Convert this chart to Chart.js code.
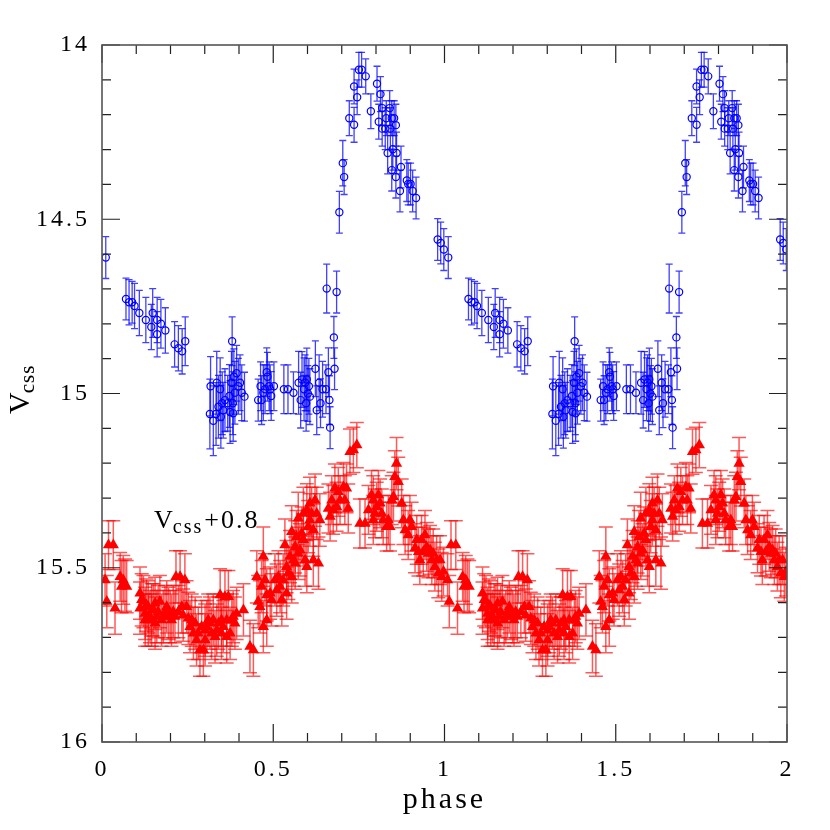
<!DOCTYPE html>
<html>
<head>
<meta charset="utf-8">
<script src="https://cdn.jsdelivr.net/npm/chart.js@4.4.1/dist/chart.umd.min.js"></script>
<style>
  html, body { margin: 0; padding: 0; background: #fff; }
  #wrap { width: 830px; height: 830px; }
</style>
</head>
<body>
<div id="wrap"><canvas id="lc" width="830" height="830"></canvas></div>
<script>
// phase-folded light curve, one cycle; plotted at phase and phase+1
// [phase, mag, err]
var vcss = [
  [0.011,14.610,0.06],
  [0.070,14.729,0.06],[0.079,14.738,0.065],[0.088,14.738,0.06],[0.095,14.749,0.065],[0.109,14.769,0.065],
  [0.128,14.789,0.065],[0.144,14.809,0.065],[0.148,14.769,0.07],[0.161,14.789,0.065],[0.161,14.830,0.065],
  [0.172,14.800,0.07],[0.185,14.819,0.065],[0.212,14.859,0.065],[0.223,14.870,0.065],[0.234,14.879,0.065],
  [0.243,14.850,0.07],
  [0.315,15.059,0.1],[0.317,14.979,0.085],[0.325,15.078,0.1],[0.333,15.059,0.09],[0.335,14.969,0.09],
  [0.340,15.038,0.09],[0.345,14.988,0.09],[0.347,15.067,0.09],[0.351,15.028,0.09],[0.354,15.048,0.08],
  [0.359,15.019,0.09],[0.367,15.028,0.08],[0.372,15.007,0.09],[0.374,15.053,0.09],[0.378,14.969,0.09],
  [0.380,14.850,0.07],[0.382,15.028,0.09],[0.383,15.057,0.08],[0.385,14.952,0.08],[0.388,14.998,0.09],
  [0.393,14.942,0.08],[0.398,14.979,0.08],[0.403,14.969,0.08],[0.408,14.998,0.08],[0.416,15.009,0.07],
  [0.456,15.019,0.06],[0.463,14.979,0.07],[0.466,15.019,0.07],[0.471,14.998,0.08],[0.476,14.988,0.07],
  [0.481,14.939,0.07],[0.483,14.952,0.07],[0.488,14.979,0.07],[0.491,14.988,0.07],[0.494,15.007,0.07],
  [0.502,14.979,0.07],
  [0.531,14.988,0.07],[0.543,14.988,0.07],[0.559,14.998,0.06],[0.574,14.969,0.09],[0.580,15.019,0.08],
  [0.584,14.960,0.08],[0.590,14.988,0.09],[0.593,14.969,0.08],[0.596,15.028,0.08],[0.598,14.960,0.09],
  [0.601,15.000,0.08],[0.604,14.979,0.08],[0.607,15.009,0.08],[0.623,14.929,0.08],[0.627,15.048,0.07],
  [0.634,14.969,0.08],[0.638,15.028,0.07],[0.644,14.988,0.08],[0.654,14.988,0.07],[0.656,14.699,0.07],
  [0.661,14.939,0.07],[0.664,15.019,0.07],[0.666,15.098,0.06],[0.677,14.839,0.06],[0.679,14.929,0.06],
  [0.685,14.709,0.06],
  [0.693,14.480,0.06],[0.703,14.339,0.065],[0.707,14.379,0.05],[0.722,14.210,0.05],[0.736,14.229,0.05],
  [0.736,14.119,0.05],[0.745,14.150,0.05],[0.750,14.071,0.05],[0.758,14.071,0.05],[0.770,14.090,0.05],
  [0.785,14.190,0.05],[0.803,14.111,0.05],[0.808,14.220,0.05],[0.813,14.141,0.05],[0.818,14.181,0.05],
  [0.818,14.240,0.05],[0.827,14.240,0.06],[0.830,14.210,0.05],[0.834,14.310,0.06],[0.840,14.181,0.05],
  [0.842,14.240,0.06],[0.846,14.210,0.05],[0.846,14.359,0.06],[0.849,14.299,0.06],[0.853,14.210,0.05],
  [0.858,14.379,0.06],[0.858,14.230,0.06],[0.860,14.310,0.06],[0.870,14.419,0.06],[0.873,14.350,0.06],
  [0.890,14.389,0.06],[0.894,14.399,0.06],[0.901,14.399,0.06],[0.907,14.419,0.06],[0.917,14.439,0.06],
  [0.980,14.558,0.06],[0.989,14.568,0.06],[0.998,14.587,0.06]
];

// Vcss + 0.8 (second data set), [phase, mag, err]
var vcssShift = [
  [0.009,15.535,0.075],[0.014,15.597,0.075],[0.019,15.435,0.07],[0.033,15.435,0.07],[0.038,15.616,0.075],
  [0.053,15.526,0.07],[0.057,15.554,0.075],[0.062,15.535,0.07],[0.067,15.550,0.075],[0.072,15.554,0.075],
  [0.111,15.573,0.075],[0.111,15.616,0.075],[0.116,15.592,0.075],[0.121,15.597,0.075],[0.126,15.631,0.075],
  [0.126,15.650,0.075],[0.130,15.607,0.075],[0.135,15.650,0.075],[0.135,15.612,0.075],[0.140,15.640,0.075],
  [0.145,15.650,0.075],[0.145,15.621,0.075],[0.150,15.621,0.075],[0.155,15.602,0.075],[0.155,15.659,0.075],
  [0.160,15.640,0.075],[0.164,15.626,0.075],[0.169,15.597,0.075],[0.174,15.650,0.075],[0.179,15.640,0.075],
  [0.184,15.626,0.075],[0.189,15.612,0.075],[0.194,15.631,0.075],[0.199,15.640,0.075],[0.203,15.650,0.075],
  [0.208,15.626,0.075],[0.213,15.640,0.075],[0.216,15.526,0.075],[0.223,15.626,0.075],[0.228,15.526,0.075],
  [0.233,15.612,0.075],[0.237,15.636,0.075],[0.242,15.535,0.075],[0.247,15.612,0.075],[0.252,15.645,0.075],
  [0.257,15.669,0.075],[0.262,15.650,0.075],[0.267,15.688,0.075],[0.272,15.659,0.075],[0.276,15.707,0.075],
  [0.281,15.688,0.075],[0.286,15.736,0.075],[0.291,15.669,0.075],[0.296,15.736,0.075],[0.301,15.707,0.075],
  [0.301,15.679,0.075],[0.306,15.669,0.075],[0.310,15.650,0.075],[0.315,15.659,0.075],[0.320,15.688,0.075],
  [0.325,15.650,0.075],[0.330,15.698,0.075],[0.335,15.679,0.075],[0.340,15.659,0.075],[0.345,15.578,0.075],
  [0.349,15.688,0.075],[0.349,15.650,0.075],[0.354,15.669,0.075],[0.359,15.583,0.075],[0.364,15.650,0.075],
  [0.364,15.698,0.075],[0.369,15.583,0.075],[0.374,15.688,0.075],[0.379,15.650,0.075],[0.383,15.640,0.075],
  [0.388,15.659,0.075],[0.393,15.631,0.075],[0.413,15.621,0.075],[0.432,15.726,0.075],[0.442,15.736,0.075],
  [0.452,15.526,0.075],[0.456,15.597,0.075],[0.461,15.612,0.075],[0.466,15.554,0.075],[0.471,15.669,0.075],
  [0.471,15.468,0.085],[0.476,15.535,0.075],[0.481,15.578,0.075],[0.481,15.650,0.075],[0.491,15.573,0.075],
  [0.495,15.592,0.075],[0.505,15.535,0.075],[0.510,15.564,0.075],[0.515,15.526,0.075],[0.520,15.554,0.075],
  [0.525,15.592,0.075],[0.529,15.535,0.075],[0.534,15.435,0.075],[0.539,15.497,0.075],[0.539,15.573,0.075],
  [0.544,15.516,0.075],[0.549,15.468,0.075],[0.554,15.397,0.075],[0.554,15.526,0.075],[0.559,15.478,0.075],
  [0.564,15.440,0.075],[0.564,15.487,0.075],[0.568,15.411,0.075],[0.573,15.358,0.075],[0.573,15.459,0.075],
  [0.578,15.449,0.075],[0.583,15.401,0.075],[0.588,15.344,0.075],[0.588,15.420,0.075],[0.593,15.478,0.075],
  [0.598,15.334,0.075],[0.598,15.497,0.075],[0.602,15.382,0.075],[0.607,15.315,0.075],[0.607,15.363,0.075],
  [0.612,15.344,0.075],[0.617,15.478,0.075],[0.617,15.392,0.075],[0.622,15.306,0.075],[0.627,15.344,0.075],
  [0.632,15.487,0.075],[0.636,15.363,0.075],[0.661,15.330,0.07],[0.666,15.353,0.07],[0.671,15.306,0.07],
  [0.675,15.334,0.07],[0.680,15.272,0.07],[0.685,15.325,0.07],[0.690,15.282,0.07],[0.695,15.306,0.07],
  [0.705,15.268,0.07],[0.709,15.306,0.07],[0.714,15.272,0.07],[0.719,15.330,0.07],[0.724,15.167,0.065],
  [0.734,15.162,0.065],[0.744,15.148,0.065],[0.753,15.373,0.07],[0.768,15.373,0.07],[0.778,15.334,0.07],
  [0.787,15.291,0.07],[0.792,15.306,0.07],[0.792,15.363,0.07],[0.797,15.344,0.07],[0.802,15.325,0.07],
  [0.807,15.291,0.07],[0.812,15.315,0.07],[0.817,15.344,0.07],[0.821,15.363,0.07],[0.831,15.382,0.07],
  [0.836,15.363,0.07],[0.841,15.382,0.07],[0.846,15.306,0.07],[0.851,15.296,0.07],[0.855,15.239,0.075],
  [0.860,15.201,0.075],[0.865,15.253,0.07],[0.875,15.315,0.07],[0.880,15.363,0.07],[0.885,15.392,0.07],
  [0.894,15.406,0.07],[0.899,15.363,0.07],[0.904,15.382,0.07],[0.914,15.444,0.07],[0.919,15.420,0.07],
  [0.924,15.454,0.07],[0.928,15.478,0.07],[0.933,15.420,0.07],[0.938,15.454,0.07],[0.943,15.406,0.07],
  [0.948,15.440,0.07],[0.953,15.459,0.07],[0.958,15.449,0.07],[0.963,15.478,0.07],[0.967,15.459,0.07],
  [0.972,15.497,0.07],[0.977,15.478,0.07],[0.982,15.516,0.07],[0.987,15.478,0.07],[0.992,15.526,0.07],
  [0.997,15.511,0.07]
];

var xTicks = [0, 0.5, 1, 1.5, 2];
var yTicks = [14, 14.5, 15, 15.5, 16];

var serif = '"Liberation Serif", "DejaVu Serif", serif';

function twoCycles(pts) {
  var out = [];
  pts.forEach(function (p) { out.push({ x: p[0], y: p[1], e: p[2] }); });
  pts.forEach(function (p) { out.push({ x: p[0] + 1, y: p[1], e: p[2] }); });
  return out;
}

// wider letter spacing for all text, like the original plot
var spacing = {
  id: 'spacing',
  beforeLayout: function (chart) { chart.ctx.letterSpacing = '3px'; },
  beforeDraw: function (chart) { chart.ctx.letterSpacing = '3px'; }
};

// error bars drawn under the markers
var errorBars = {
  id: 'errorBars',
  beforeDatasetsDraw: function (chart) {
    var ctx = chart.ctx, xs = chart.scales.x, ys = chart.scales.y, a = chart.chartArea;
    ctx.save();
    ctx.beginPath();
    ctx.rect(a.left, a.top, a.right - a.left, a.bottom - a.top);
    ctx.clip();
    chart.data.datasets.forEach(function (ds) {
      ctx.strokeStyle = ds.errColor;
      ctx.lineWidth = ds.errWidth;
      var c = ds.capHalf;
      ds.data.forEach(function (d) {
        var px = xs.getPixelForValue(d.x);
        var y1 = ys.getPixelForValue(d.y - d.e);
        var y2 = ys.getPixelForValue(d.y + d.e);
        ctx.beginPath();
        ctx.moveTo(px, y1); ctx.lineTo(px, y2);
        ctx.moveTo(px - c, y1); ctx.lineTo(px + c, y1);
        ctx.moveTo(px - c, y2); ctx.lineTo(px + c, y2);
        ctx.stroke();
      });
    });
    ctx.restore();
  }
};

// box, inward ticks on all four sides, y title and the shift label
var frame = {
  id: 'frame',
  afterDraw: function (chart) {
    var ctx = chart.ctx, xs = chart.scales.x, ys = chart.scales.y, a = chart.chartArea;
    ctx.save();
    ctx.strokeStyle = '#222';
    ctx.lineWidth = 1.2;
    ctx.beginPath();
    var i, v, p, len;
    for (i = 0; i <= 20; i++) {
      v = i / 10;
      p = xs.getPixelForValue(v);
      len = (i % 5 === 0) ? 18 : 9;
      ctx.moveTo(p, a.bottom); ctx.lineTo(p, a.bottom - len);
      ctx.moveTo(p, a.top); ctx.lineTo(p, a.top + len);
    }
    for (i = 0; i <= 20; i++) {
      v = 14 + i / 10;
      p = ys.getPixelForValue(v);
      len = (i % 5 === 0) ? 18 : 9;
      ctx.moveTo(a.left, p); ctx.lineTo(a.left + len, p);
      ctx.moveTo(a.right, p); ctx.lineTo(a.right - len, p);
    }
    ctx.stroke();
    ctx.strokeStyle = '#555';
    ctx.lineWidth = 1.6;
    ctx.strokeRect(a.left, a.top, a.right - a.left, a.bottom - a.top);

    // y axis title: V with subscript css, rotated
    ctx.fillStyle = '#000';
    ctx.letterSpacing = '1px';
    ctx.translate(29, 414);
    ctx.rotate(-Math.PI / 2);
    ctx.textBaseline = 'alphabetic';
    ctx.font = '30px ' + serif;
    ctx.fillText('V', 0, 0);
    var w = ctx.measureText('V').width;
    ctx.font = '21px ' + serif;
    ctx.fillText('css', w - 2, 5);
    ctx.restore();

    // label for the shifted curve
    ctx.save();
    ctx.fillStyle = '#000';
    ctx.letterSpacing = '2px';
    var lx = xs.getPixelForValue(0.152), ly = ys.getPixelForValue(15.385);
    ctx.font = '26px ' + serif;
    ctx.fillText('V', lx, ly);
    var wv = ctx.measureText('V').width;
    ctx.font = '20px ' + serif;
    ctx.fillText('css', lx + wv - 2, ly + 5);
    var wc = ctx.measureText('css').width;
    ctx.font = '26px ' + serif;
    ctx.fillText('+0.8', lx + wv + wc - 1, ly);
    ctx.restore();
  }
};

var ctx = document.getElementById('lc').getContext('2d');

var lightCurve = new Chart(ctx, {
  type: 'scatter',
  data: {
    datasets: [{
      label: 'Vcss',
      data: twoCycles(vcss),
      pointStyle: 'circle',
      pointRadius: 3.6,
      pointBorderWidth: 1.2,
      borderColor: '#0000ff',
      backgroundColor: 'rgba(0,0,0,0)',
      errColor: 'rgba(0,0,255,0.75)',
      errWidth: 1.3,
      capHalf: 3.5
    }, {
      label: 'Vcss+0.8',
      data: twoCycles(vcssShift),
      pointStyle: 'triangle',
      pointRadius: 6.5,
      pointBorderWidth: 0,
      borderColor: '#ff0000',
      backgroundColor: '#ff0000',
      errColor: 'rgba(255,0,0,0.65)',
      errWidth: 1.5,
      capHalf: 7
    }]
  },
  options: {
    responsive: false,
    animation: false,
    events: [],
    layout: { padding: { left: 0, right: 43, top: 45, bottom: 0 } },
    plugins: { legend: { display: false }, tooltip: { enabled: false } },
    scales: {
      x: {
        type: 'linear',
        min: 0, max: 2,
        afterBuildTicks: function (s) { s.ticks = xTicks.map(function (v) { return { value: v }; }); },
        afterFit: function (s) { s.height = 88; },
        grid: { display: false, drawTicks: false },
        border: { display: false },
        ticks: {
          color: '#000', padding: 13, maxRotation: 0, autoSkip: false,
          font: { family: serif, size: 24 },
          callback: function (v) { return String(v); }
        },
        title: {
          display: true, text: 'phase', color: '#000',
          font: { family: serif, size: 30 },
          padding: { top: 0, bottom: 12 }
        }
      },
      y: {
        type: 'linear',
        reverse: true,
        min: 14, max: 16,
        afterBuildTicks: function (s) { s.ticks = yTicks.map(function (v) { return { value: v }; }); },
        afterFit: function (s) { s.width = 102; },
        grid: { display: false, drawTicks: false },
        border: { display: false },
        ticks: {
          color: '#000', padding: 12, autoSkip: false,
          font: { family: serif, size: 24 },
          callback: function (v) { return String(v); }
        }
      }
    }
  },
  plugins: [spacing, errorBars, frame]
});
</script>
</body>
</html>
